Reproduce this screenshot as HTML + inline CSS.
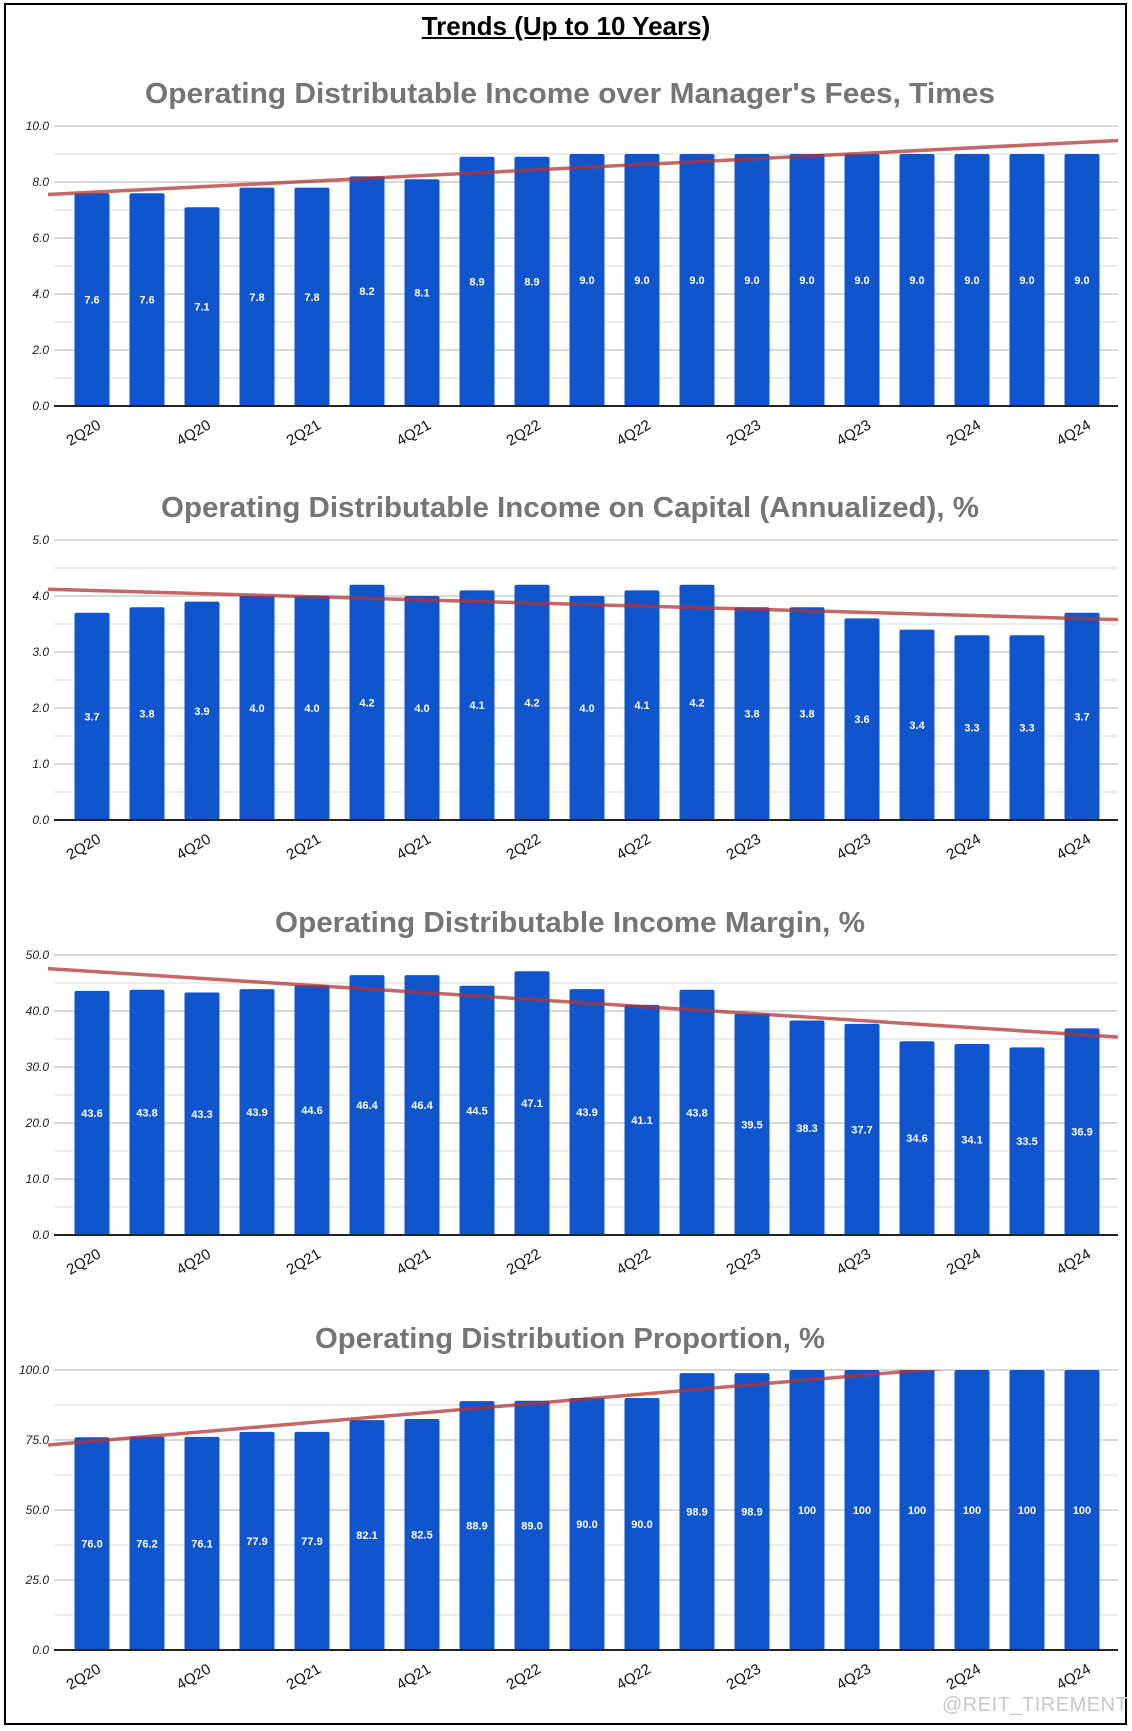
<!DOCTYPE html>
<html><head><meta charset="utf-8">
<style>
html,body{margin:0;padding:0;background:#fff;}
body{width:1132px;height:1731px;overflow:hidden;position:relative;font-family:"Liberation Sans",sans-serif;}
#frame{position:absolute;left:4px;top:3px;width:1119px;height:1718px;border:2px solid #000;}
#main-title{position:absolute;left:0;width:1132px;top:11px;text-align:center;font-weight:bold;font-size:26px;text-decoration:underline;color:#000;}
#wm{position:absolute;left:942px;top:1694px;font-size:20px;color:#c8c8c8;letter-spacing:0.5px;}
svg{position:absolute;left:0;top:0;}
</style></head>
<body>
<div id="frame"></div>
<div id="main-title">Trends (Up to 10 Years)</div>
<svg id="svg" width="1132" height="1731"></svg>
<div id="wm">@REIT_TIREMENT</div>
<script>
const categories = ["2Q20","3Q20","4Q20","1Q21","2Q21","3Q21","4Q21","1Q22","2Q22","3Q22","4Q22","1Q23","2Q23","3Q23","4Q23","1Q24","2Q24","3Q24","4Q24"];
const feesTimes = [7.6,7.6,7.1,7.8,7.8,8.2,8.1,8.9,8.9,9.0,9.0,9.0,9.0,9.0,9.0,9.0,9.0,9.0,9.0];
const incomeOnCapital = [3.7,3.8,3.9,4.0,4.0,4.2,4.0,4.1,4.2,4.0,4.1,4.2,3.8,3.8,3.6,3.4,3.3,3.3,3.7];
const incomeMargin = [43.6,43.8,43.3,43.9,44.6,46.4,46.4,44.5,47.1,43.9,41.1,43.8,39.5,38.3,37.7,34.6,34.1,33.5,36.9];
const distProportion = [76.0,76.2,76.1,77.9,77.9,82.1,82.5,88.9,89.0,90.0,90.0,98.9,98.9,100,100,100,100,100,100];
const ticks1 = [0,2,4,6,8,10];
const ticks2 = [0,1,2,3,4,5];
const ticks3 = [0,10,20,30,40,50];
const ticks4 = [0,25,50,75,100];

const NS="http://www.w3.org/2000/svg";
const svg=document.getElementById('svg');
function mk(tag,attrs,parent){const e=document.createElementNS(NS,tag);for(const k in attrs)e.setAttribute(k,attrs[k]);(parent||svg).appendChild(e);return e;}

function chart(cfg){
  const {title,titleY,top,bottom,max,ticks,values,name}=cfg;
  const L=54,R=1118;
  const g=mk('g',{});
  
  
  const y=v=>bottom-(v/max)*(bottom-top);
  const x=i=>92+i*55;
  const t=mk('text',{x:570,y:titleY,'text-anchor':'middle','font-size':29,'font-weight':'bold',fill:'#757575',textLength:cfg.tl,lengthAdjust:'spacingAndGlyphs'},g);
  t.textContent=title;
  
  
  for(let k=0;k<ticks.length-1;k++){
    const mv=(ticks[k]+ticks[k+1])/2;
    const ml=mk('line',{x1:L,x2:R,y1:y(mv),y2:y(mv),stroke:'#e6e6e6','stroke-width':1.5},g);
    
    
  }
  ticks.forEach(tv=>{
    if(tv!==0){
      const gl=mk('line',{x1:L,x2:R,y1:y(tv),y2:y(tv),stroke:'#cccccc','stroke-width':1.5},g);
      
      
    }
    const tl=mk('text',{x:L-5,y:y(tv)+4,'text-anchor':'end','font-size':12,'font-style':'italic',fill:'#222'},g);
    tl.textContent=tv.toFixed(1);
    
    
  });
  values.forEach((v,i)=>{
    const b=mk('rect',{x:x(i)-17.5,y:y(v),width:35,height:bottom-y(v),rx:2,fill:'#1155cc'},g);
    
    
    const lb=mk('text',{x:x(i),y:y(v/2)+4,'text-anchor':'middle','font-size':11,'font-weight':'bold',fill:'#fff'},g);
    lb.textContent=v>=100?String(Math.round(v)):v.toFixed(1);
    
    
  });
  const ax=mk('line',{x1:L,x2:R,y1:bottom,y2:bottom,stroke:'#222','stroke-width':2},g);
  
  
  categories.forEach((c,i)=>{
    if(i%2) return;
    const cx=x(i)-6, cy=bottom+31;
    const xl=mk('text',{x:cx,y:cy,'text-anchor':'middle','font-size':15,fill:'#111',transform:`rotate(-30 ${cx} ${cy})`},g);
    xl.textContent=c;
    
    
  });
  const n=values.length;let sx=0,sy=0,sxy=0,sxx=0;
  values.forEach((v,i)=>{sx+=i;sy+=v;sxy+=i*v;sxx+=i*i;});
  const m=(n*sxy-sx*sy)/(n*sxx-sx*sx), c0=(sy-m*sx)/n;
  const toIdx=px=>(px-92)/55;
  const cid='clip-'+name;
  const cp=mk('clipPath',{id:cid},g);
  mk('rect',{x:L-10,y:top,width:R-L+10,height:bottom-top},cp);
  const tr=mk('line',{x1:L-6,y1:y(c0+m*toIdx(L-6)),x2:R,y2:y(c0+m*toIdx(R)),stroke:'rgba(176,52,52,0.75)','stroke-width':3.5,'clip-path':`url(#${cid})`},g);
  
  
}
chart({name:'fees-times-chart',title:"Operating Distributable Income over Manager's Fees, Times",titleY:103,top:126,bottom:406,max:10,ticks:ticks1,values:feesTimes,tl:850});
chart({name:'income-on-capital-chart',title:"Operating Distributable Income on Capital (Annualized), %",titleY:517,top:540,bottom:820,max:5,ticks:ticks2,values:incomeOnCapital,tl:818});
chart({name:'income-margin-chart',title:"Operating Distributable Income Margin, %",titleY:932,top:955,bottom:1235,max:50,ticks:ticks3,values:incomeMargin,tl:590});
chart({name:'distribution-proportion-chart',title:"Operating Distribution Proportion, %",titleY:1348,top:1370,bottom:1650,max:100,ticks:ticks4,values:distProportion,tl:510});
</script>
</body></html>
